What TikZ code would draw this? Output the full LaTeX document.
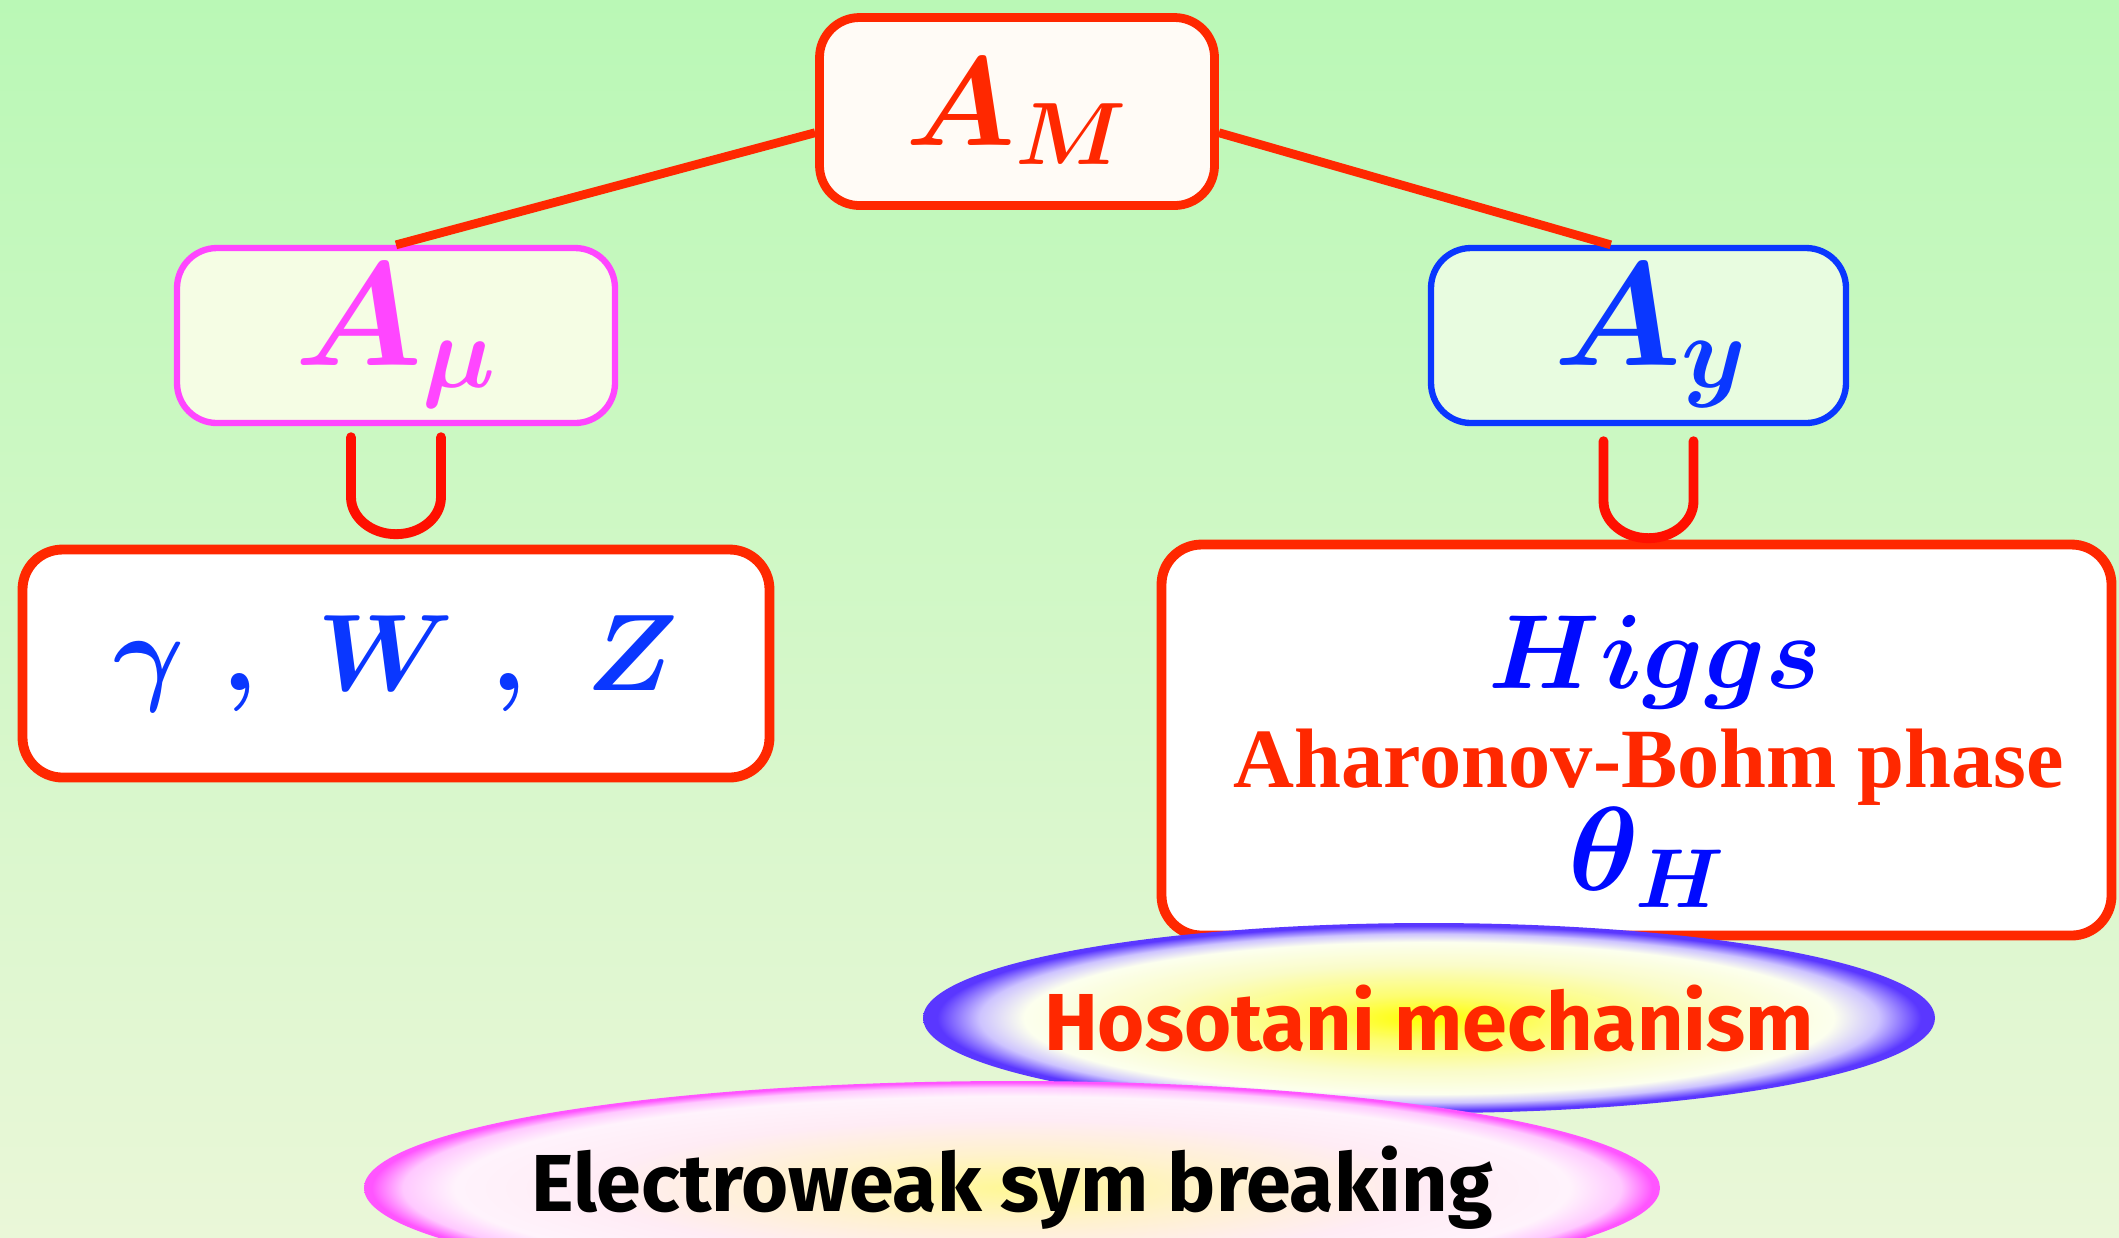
\RequirePackage{fix-cm}
\documentclass[tikz,border=0pt]{standalone}
\usepackage{amsmath}
\usepackage{bm}
\usepackage{fontspec}
\usepackage{tikz}
\usetikzlibrary{
	calc,
	shapes.geometric
}
\newfontfamily\comicfont{Fira Sans}
\newfontfamily\abfont{Liberation Serif}
\definecolor{HRed}{RGB}{255,40,0}
\definecolor{CupRed}{RGB}{255,15,0}
\definecolor{HPink}{RGB}{255,70,255}
\definecolor{HBlue}{RGB}{10,55,255}
\definecolor{DeepBlue}{RGB}{0,10,255}
\definecolor{BgTop}{RGB}{186,248,182}
\definecolor{BgBot}{RGB}{234,247,216}
\definecolor{AMFill}{RGB}{255,251,246}
\definecolor{MuFill}{RGB}{245,253,228}
\definecolor{YFill}{RGB}{232,252,224}
\definecolor{RimBlue}{RGB}{90,55,255}
\definecolor{RimBlueSoft}{RGB}{205,195,255}
\definecolor{CoreYellow}{RGB}{255,255,0}
\definecolor{MidYellow}{RGB}{253,253,110}
\definecolor{PaleYellow}{RGB}{250,252,200}
\definecolor{PaleWhite}{RGB}{252,255,238}
\definecolor{RimPink}{RGB}{255,85,255}
\definecolor{RimPinkSoft}{RGB}{255,200,255}
\definecolor{EwCore}{RGB}{255,248,150}
\definecolor{EwMid}{RGB}{255,242,205}
\definecolor{EwPale}{RGB}{255,236,245}
\definecolor{EwWhite}{RGB}{255,243,252}
\pgfdeclareradialshading{hososhade}{\pgfpoint{0bp}{0bp}}{%
	color(0bp)=(CoreYellow);
	color(6bp)=(MidYellow);
	color(14bp)=(PaleYellow);
	color(20bp)=(PaleWhite);
	color(22.2bp)=(RimBlueSoft);
	color(24.3bp)=(RimBlue);
	color(50bp)=(RimBlue)}
\pgfdeclareradialshading{ewshade}{\pgfpoint{0bp}{0bp}}{%
	color(0bp)=(EwCore);
	color(8bp)=(EwMid);
	color(16bp)=(EwPale);
	color(21.5bp)=(EwWhite);
	color(23.5bp)=(RimPinkSoft);
	color(24.7bp)=(RimPink);
	color(50bp)=(RimPink)}

\begin{document}
\begin{tikzpicture}[
	box/.style={draw=HRed, line width=2.8pt, rounded corners=0.4cm, fill=white, inner sep=0pt},
	link/.style={HRed, line width=2.5pt},
	cupline/.style={CupRed, line width=2.8pt, line cap=round},
	blob/.style={ellipse, inner sep=0pt, shade}
]
	\useasboundingbox (0,0) rectangle (21.19,-12.37);
	\clip (0,0) rectangle (21.19,-12.37);
	\shade[top color=BgTop, bottom color=BgBot] (0,0) rectangle (21.19,-12.37);
	\node[box, line width=2.5pt, fill=AMFill, minimum width=3.95cm, minimum height=1.88cm] (AM) at (10.17,-1.115) {\fontsize{36}{40}\selectfont\color{HRed}$\bm{A_M}$};
	\node[box, draw=HPink, line width=1.8pt, fill=MuFill, minimum width=4.38cm, minimum height=1.75cm] (Amu) at (3.96,-3.355) {\fontsize{42}{46}\selectfont\color{HPink}$\bm{A_\mu}$};
	\node[box, draw=HBlue, line width=1.8pt, fill=YFill, minimum width=4.15cm, minimum height=1.75cm] (Ay) at (16.385,-3.355) {\fontsize{42}{46}\selectfont\color{HBlue}\hspace{0.25cm}$\bm{A_y}$};
	\draw[link] (AM.186) -- (Amu.north);
	\draw[link] (AM.-6) -- (Ay.107);
	\node[box, minimum width=7.47cm, minimum height=2.28cm] (gauge) at (3.96,-6.635) {\fontsize{31}{36}\selectfont\color{HBlue}$\bm{\gamma}\hspace{0.35em}{\bm{,}}\hspace{0.55em}\bm{W}\hspace{0.35em}{\bm{,}}\hspace{0.55em}\bm{Z}$};
	\node[box, minimum width=9.5cm, minimum height=3.91cm] (higgsbox) at (16.365,-7.40) {};
	\node[anchor=base, inner sep=0pt, text=DeepBlue, font=\fontsize{30}{34}\selectfont] (higgs) at (16.55,-6.88) {$\bm{Higgs}$};
	\node[anchor=base, inner sep=0pt, text=HRed, font=\abfont\bfseries\fontsize{24}{28}\selectfont] (ab) at (16.49,-7.87) {Aharonov-Bohm phase};
	\node[anchor=base, inner sep=0pt, text=DeepBlue, font=\fontsize{34}{38}\selectfont] (theta) at (16.47,-8.90) {$\bm{\theta_H}$};
	\coordinate (cupMu) at ($(Amu.south)+(0,-0.11)$);
	\coordinate (cupY) at ($(Ay.south)+(0.1,-0.15)$);
	\draw[cupline] ($(cupMu)+(-0.45,0)$) -- ++(0,-0.6) arc[start angle=180, end angle=360, x radius=0.45, y radius=0.37] -- ++(0,0.6);
	\draw[cupline] ($(cupY)+(-0.45,0)$) -- ++(0,-0.6) arc[start angle=180, end angle=360, x radius=0.45, y radius=0.37] -- ++(0,0.6);
	\node[blob, shading=hososhade, minimum width=10.12cm, minimum height=1.9cm] (hoso) at (14.29,-10.18) {\makebox[0pt]{\comicfont\bfseries\fontsize{23}{26}\selectfont\color{HRed}Hosotani mechanism}};
	\node[blob, shading=ewshade, minimum width=12.96cm, minimum height=2.14cm] (ewsb) at (10.12,-11.88) {\makebox[0pt]{\comicfont\bfseries\fontsize{23}{26}\selectfont Electroweak sym breaking}};
\end{tikzpicture}
\end{document}
